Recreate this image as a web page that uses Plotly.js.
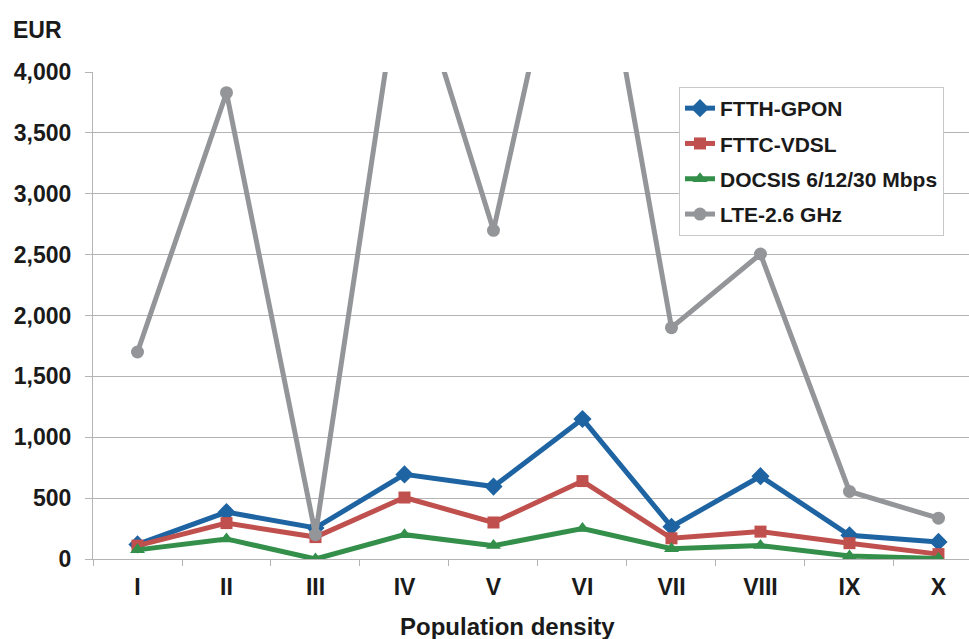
<!DOCTYPE html>
<html>
<head>
<meta charset="utf-8">
<script src="https://cdn.plot.ly/plotly-3.0.1.min.js"></script>
<style>html,body{margin:0;padding:0;background:#fff;}#chart{width:969px;height:639px;}</style>
</head>
<body>
<div id="chart"></div>
<script>
const categories = ['I','II','III','IV','V','VI','VII','VIII','IX','X'];
const ftthGpon = [120, 385, 255, 695, 595, 1150, 265, 680, 195, 140];
const fttcVdsl = [110, 295, 180, 505, 300, 640, 170, 225, 130, 40];
const docsis = [75, 165, 0, 200, 110, 250, 85, 110, 25, 5];
const lte = [1700, 3830, 200, 5050, 2700, 6000, 1900, 2505, 555, 335];
const seriesNames = ['FTTH-GPON', 'FTTC-VDSL', 'DOCSIS 6/12/30 Mbps', 'LTE-2.6 GHz'];
const yTickVals = [0, 500, 1000, 1500, 2000, 2500, 3000, 3500, 4000];

const FONT = 'Liberation Sans, Arial, Helvetica, sans-serif';
const colors = ['#1f64a2', '#c0504d', '#348f4b', '#939598'];
const symbols = ['diamond', 'square', 'triangle-up', 'circle'];
const sizes = [14, 12, 13, 13];
const allSeries = [ftthGpon, fttcVdsl, docsis, lte];

const traces = allSeries.map((vals, i) => ({
  type: 'scatter',
  mode: 'lines+markers',
  x: categories,
  y: vals,
  name: seriesNames[i],
  legendgroup: 'g' + i,
  line: {color: colors[i], width: 5},
  marker: {color: colors[i], symbol: symbols[i], size: sizes[i]},
  cliponaxis: true
}));

const PL = 93, PT = 72, PB = 559, PR = 969;
const PW = PR - PL, PH = PB - PT;

const layout = {
  width: 969,
  height: 639,
  margin: {l: PL, r: 969 - PR, t: PT, b: 639 - PB, pad: 0, autoexpand: false},
  paper_bgcolor: '#ffffff',
  plot_bgcolor: '#ffffff',
  showlegend: true,
  font: {family: FONT, color: '#1a1a1a'},
  title: {
    text: 'EUR',
    x: 13 / 969, xanchor: 'left', xref: 'container',
    y: 1 - 30 / 639, yanchor: 'middle', yref: 'container',
    font: {family: FONT, size: 23, weight: 'bold', color: '#1a1a1a'}
  },
  xaxis: {
    type: 'category',
    range: [-0.5, 9.343],
    showgrid: false,
    zeroline: false,
    showline: true,
    linecolor: '#b4b4b4',
    linewidth: 1,
    ticks: 'outside',
    tickson: 'boundaries',
    ticklen: 6,
    tickcolor: '#b4b4b4',
    ticklabelstandoff: 7,
    tickfont: {family: FONT, size: 23, weight: 'bold', color: '#1a1a1a'},
    fixedrange: true
  },
  yaxis: {
    range: [0, 4000],
    tickvals: yTickVals,
    tickformat: ',d',
    showgrid: true,
    gridcolor: '#b4b4b4',
    gridwidth: 1,
    zeroline: false,
    showline: true,
    linecolor: '#b4b4b4',
    linewidth: 1,
    ticks: 'outside',
    ticklen: 7,
    tickcolor: '#b4b4b4',
    ticklabelstandoff: 9,
    tickfont: {family: FONT, size: 23, weight: 'bold', color: '#1a1a1a'},
    fixedrange: true
  },
  legend: {
    x: (679 - PL) / PW, xref: 'paper', xanchor: 'left',
    y: (PB - 87) / PH, yref: 'paper', yanchor: 'top',
    bgcolor: '#ffffff',
    bordercolor: '#c8c8c8',
    borderwidth: 1,
    tracegroupgap: 5,
    itemwidth: 30,
    font: {family: FONT, size: 21, weight: 'bold', color: '#1a1a1a'}
  },
  annotations: [{
    text: 'Population density',
    xref: 'paper', yref: 'paper',
    x: (507 - PL) / PW, xanchor: 'center',
    y: (PB - 626) / PH, yanchor: 'middle',
    showarrow: false,
    font: {family: FONT, size: 24, weight: 'bold', color: '#1a1a1a'}
  }]
};

Plotly.newPlot('chart', traces, layout, {displayModeBar: false, staticPlot: true});
</script>
</body>
</html>
